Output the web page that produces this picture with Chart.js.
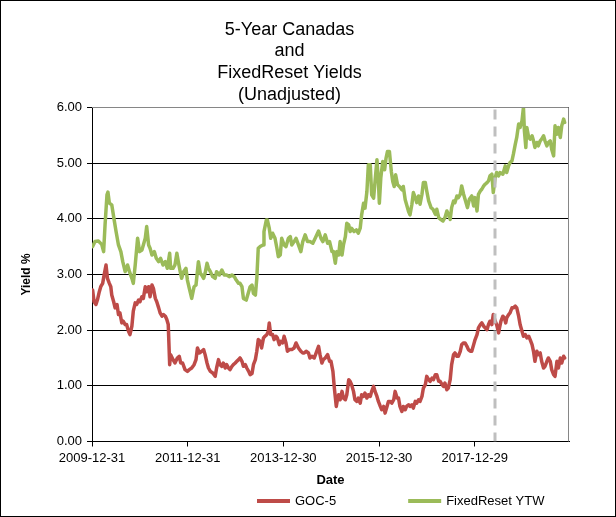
<!DOCTYPE html>
<html><head><meta charset="utf-8">
<script src="https://cdn.jsdelivr.net/npm/chart.js@4.4.1/dist/chart.umd.min.js"></script>
<style>html,body{margin:0;padding:0;background:#fff}canvas{display:block}</style>
</head><body>
<canvas id="c" width="616" height="517"></canvas>
<script>
const titleLines = ['5-Year Canadas', 'and', 'FixedReset Yields', '(Unadjusted)'];
const seriesNames = ['GOC-5', 'FixedReset YTW'];
const tickLabels = ['2009-12-31', '2011-12-31', '2013-12-30', '2015-12-30', '2017-12-29'];
const xStartDate = '2009-12-31';
const xEndDate = '2019-12-18';
const markerDate = '2018-06-01';
const yTicks = [0, 1, 2, 3, 4, 5, 6];

// dates as decimal years
const gocDates = [2010.01,2010.04,2010.08,2010.11,2010.15,2010.18,2010.22,2010.25,2010.29,2010.32,2010.36,2010.39,2010.41,2010.45,2010.48,2010.52,2010.55,2010.58,2010.62,2010.65,2010.69,2010.72,2010.76,2010.79,2010.83,2010.86,2010.90,2010.93,2010.97,2011.00,2011.04,2011.07,2011.11,2011.14,2011.18,2011.21,2011.25,2011.28,2011.32,2011.35,2011.39,2011.42,2011.46,2011.49,2011.53,2011.56,2011.59,2011.62,2011.64,2011.69,2011.73,2011.78,2011.82,2011.85,2011.89,2011.94,2011.99,2012.03,2012.08,2012.13,2012.17,2012.20,2012.24,2012.29,2012.33,2012.36,2012.40,2012.43,2012.47,2012.52,2012.57,2012.60,2012.64,2012.67,2012.71,2012.74,2012.78,2012.81,2012.85,2012.88,2012.92,2012.95,2012.99,2013.02,2013.06,2013.09,2013.13,2013.16,2013.20,2013.23,2013.27,2013.30,2013.34,2013.37,2013.41,2013.44,2013.47,2013.51,2013.54,2013.58,2013.61,2013.65,2013.68,2013.70,2013.73,2013.77,2013.80,2013.84,2013.87,2013.91,2013.94,2013.98,2014.01,2014.05,2014.08,2014.12,2014.17,2014.22,2014.26,2014.31,2014.36,2014.40,2014.43,2014.47,2014.52,2014.55,2014.59,2014.64,2014.68,2014.73,2014.76,2014.80,2014.83,2014.87,2014.92,2014.96,2014.99,2015.03,2015.06,2015.10,2015.13,2015.15,2015.18,2015.22,2015.25,2015.29,2015.32,2015.36,2015.39,2015.42,2015.46,2015.49,2015.53,2015.56,2015.60,2015.63,2015.67,2015.70,2015.74,2015.77,2015.81,2015.84,2015.88,2015.91,2015.95,2015.98,2016.02,2016.05,2016.09,2016.12,2016.16,2016.19,2016.23,2016.26,2016.30,2016.33,2016.37,2016.40,2016.43,2016.47,2016.50,2016.54,2016.57,2016.61,2016.64,2016.68,2016.71,2016.75,2016.78,2016.82,2016.85,2016.89,2016.92,2016.96,2016.99,2017.03,2017.06,2017.10,2017.13,2017.17,2017.20,2017.24,2017.27,2017.31,2017.34,2017.37,2017.41,2017.44,2017.48,2017.51,2017.55,2017.58,2017.62,2017.65,2017.69,2017.72,2017.76,2017.79,2017.83,2017.86,2017.90,2017.93,2017.97,2018.00,2018.04,2018.07,2018.11,2018.14,2018.18,2018.21,2018.25,2018.28,2018.31,2018.35,2018.38,2018.42,2018.45,2018.49,2018.51,2018.54,2018.58,2018.61,2018.64,2018.66,2018.70,2018.73,2018.77,2018.80,2018.84,2018.87,2018.91,2018.94,2018.98,2019.01,2019.05,2019.08,2019.12,2019.15,2019.19,2019.22,2019.25,2019.29,2019.32,2019.36,2019.39,2019.43,2019.46,2019.50,2019.53,2019.57,2019.60,2019.64,2019.67,2019.71,2019.74,2019.78,2019.81,2019.85,2019.87];
const gocYield = [2.72,2.51,2.46,2.54,2.69,2.78,2.84,2.99,3.17,2.93,2.84,2.78,2.63,2.51,2.40,2.46,2.28,2.31,2.13,2.16,2.10,2.10,1.98,1.92,2.07,2.34,2.49,2.46,2.54,2.51,2.60,2.57,2.78,2.69,2.78,2.60,2.81,2.75,2.57,2.51,2.40,2.31,2.25,2.28,2.25,2.19,2.10,1.38,1.56,1.47,1.41,1.50,1.53,1.41,1.41,1.29,1.26,1.29,1.32,1.38,1.47,1.68,1.59,1.62,1.65,1.56,1.41,1.32,1.26,1.23,1.17,1.32,1.47,1.38,1.35,1.41,1.32,1.38,1.32,1.29,1.35,1.38,1.41,1.44,1.47,1.50,1.44,1.35,1.38,1.32,1.26,1.20,1.22,1.38,1.47,1.62,1.83,1.80,1.68,1.86,1.89,1.92,1.98,2.13,1.92,1.92,1.83,1.89,1.86,1.74,1.80,1.77,1.89,1.77,1.62,1.65,1.65,1.68,1.77,1.68,1.62,1.59,1.59,1.62,1.59,1.50,1.53,1.50,1.59,1.71,1.56,1.41,1.47,1.50,1.56,1.44,1.44,1.26,0.96,0.63,0.78,0.84,0.75,0.90,0.78,0.75,0.84,1.11,1.08,1.02,0.90,0.75,0.72,0.78,0.69,0.84,0.81,0.87,0.78,0.84,0.81,0.90,0.99,0.90,0.81,0.72,0.63,0.57,0.63,0.51,0.63,0.72,0.72,0.69,0.75,0.90,0.78,0.78,0.63,0.54,0.63,0.57,0.63,0.66,0.63,0.66,0.60,0.72,0.69,0.75,0.72,0.81,0.96,1.02,1.17,1.11,1.08,1.14,1.11,1.20,1.20,1.08,1.08,1.02,0.99,1.05,0.93,0.96,1.11,1.38,1.56,1.59,1.53,1.53,1.62,1.74,1.77,1.77,1.71,1.65,1.62,1.62,1.74,1.83,1.92,2.04,2.10,2.13,2.07,2.04,2.01,2.10,2.16,2.10,2.28,2.16,2.10,1.95,2.04,2.16,2.25,2.22,2.13,2.22,2.28,2.31,2.40,2.40,2.43,2.40,2.25,2.10,1.98,1.89,1.92,1.86,1.89,1.83,1.74,1.62,1.44,1.62,1.56,1.59,1.44,1.32,1.35,1.44,1.50,1.44,1.29,1.20,1.17,1.44,1.32,1.50,1.41,1.53,1.50];

const frDates = [2010.01,2010.06,2010.13,2010.20,2010.24,2010.27,2010.31,2010.33,2010.36,2010.41,2010.46,2010.50,2010.55,2010.60,2010.64,2010.69,2010.74,2010.78,2010.83,2010.86,2010.90,2010.95,2010.99,2011.04,2011.07,2011.11,2011.14,2011.18,2011.21,2011.25,2011.30,2011.34,2011.39,2011.43,2011.48,2011.53,2011.57,2011.62,2011.64,2011.69,2011.73,2011.77,2011.80,2011.84,2011.87,2011.91,2011.96,2011.99,2012.03,2012.08,2012.13,2012.17,2012.22,2012.26,2012.29,2012.33,2012.36,2012.40,2012.43,2012.47,2012.52,2012.57,2012.60,2012.66,2012.71,2012.76,2012.81,2012.87,2012.92,2012.97,2013.01,2013.06,2013.09,2013.13,2013.16,2013.22,2013.27,2013.30,2013.34,2013.37,2013.41,2013.44,2013.47,2013.51,2013.57,2013.59,2013.64,2013.66,2013.70,2013.73,2013.77,2013.82,2013.86,2013.89,2013.93,2013.96,2014.01,2014.05,2014.10,2014.14,2014.17,2014.22,2014.26,2014.31,2014.36,2014.40,2014.45,2014.50,2014.55,2014.61,2014.66,2014.73,2014.78,2014.82,2014.87,2014.92,2014.96,2015.01,2015.04,2015.08,2015.11,2015.15,2015.18,2015.22,2015.25,2015.29,2015.32,2015.36,2015.39,2015.42,2015.47,2015.52,2015.56,2015.60,2015.63,2015.67,2015.70,2015.74,2015.77,2015.81,2015.84,2015.88,2015.91,2015.95,2015.98,2016.00,2016.03,2016.07,2016.11,2016.14,2016.17,2016.21,2016.25,2016.28,2016.31,2016.34,2016.38,2016.42,2016.47,2016.50,2016.54,2016.57,2016.61,2016.64,2016.68,2016.71,2016.75,2016.78,2016.82,2016.85,2016.89,2016.92,2016.96,2016.99,2017.03,2017.08,2017.12,2017.17,2017.20,2017.24,2017.28,2017.33,2017.37,2017.41,2017.44,2017.48,2017.51,2017.55,2017.58,2017.62,2017.65,2017.69,2017.72,2017.76,2017.79,2017.84,2017.88,2017.93,2017.97,2018.00,2018.04,2018.07,2018.11,2018.14,2018.18,2018.21,2018.25,2018.28,2018.31,2018.35,2018.38,2018.42,2018.45,2018.49,2018.52,2018.58,2018.63,2018.66,2018.70,2018.73,2018.77,2018.80,2018.84,2018.87,2018.91,2018.94,2018.98,2019.01,2019.03,2019.06,2019.08,2019.12,2019.15,2019.19,2019.22,2019.25,2019.29,2019.32,2019.36,2019.39,2019.43,2019.46,2019.50,2019.53,2019.57,2019.60,2019.64,2019.67,2019.71,2019.74,2019.78,2019.81,2019.85,2019.87];
const frYield = [3.50,3.59,3.60,3.54,3.41,3.89,4.43,4.48,4.28,4.25,3.98,3.77,3.53,3.41,3.23,3.05,3.17,3.05,2.93,2.84,3.17,3.65,3.41,3.44,3.53,3.65,3.86,3.53,3.47,3.35,3.41,3.29,3.23,3.29,3.17,3.23,3.11,3.38,3.11,3.11,3.17,3.38,3.23,3.05,2.93,3.05,3.11,2.90,2.75,2.57,2.78,2.81,3.23,3.02,2.99,2.93,3.02,3.20,3.11,3.05,2.96,2.93,3.05,2.99,3.08,2.99,2.99,2.96,2.99,2.96,2.90,2.84,2.84,2.78,2.57,2.54,2.69,2.78,2.81,2.66,2.63,2.93,3.47,3.50,3.53,3.77,3.98,3.98,3.83,3.65,3.74,3.65,3.47,3.32,3.35,3.65,3.53,3.50,3.65,3.68,3.53,3.59,3.65,3.53,3.41,3.59,3.71,3.59,3.59,3.56,3.65,3.78,3.65,3.59,3.71,3.56,3.59,3.41,3.41,3.20,3.41,3.35,3.59,3.35,3.53,3.68,3.92,3.89,3.77,3.83,3.77,3.80,3.74,3.83,4.07,4.28,4.19,4.49,4.97,4.97,4.43,4.37,4.67,5.06,4.67,4.28,4.73,5.03,4.88,5.09,5.21,5.21,4.85,4.67,4.58,4.79,4.61,4.58,4.52,4.58,4.34,4.25,4.13,4.07,4.26,4.47,4.38,4.29,4.41,4.26,4.44,4.65,4.65,4.50,4.32,4.20,4.17,4.08,4.17,4.02,3.99,3.96,4.02,4.14,4.08,3.99,4.20,4.32,4.29,4.41,4.38,4.44,4.59,4.44,4.35,4.20,4.35,4.41,4.23,4.38,4.14,4.44,4.50,4.53,4.59,4.62,4.65,4.68,4.77,4.80,4.47,4.74,4.83,4.77,4.83,4.80,4.95,4.83,4.95,5.01,5.04,5.16,5.34,5.46,5.70,5.64,5.76,6.00,5.58,5.28,5.64,5.46,5.43,5.49,5.40,5.28,5.37,5.31,5.40,5.43,5.49,5.40,5.31,5.37,5.40,5.25,5.13,5.67,5.52,5.64,5.46,5.67,5.79,5.73];

const RED = '#BE4B48', GREEN = '#9BBB59';
const FONT = "'Liberation Sans', Arial, sans-serif";

function decYear(s) {
  const [y, m, d] = s.split('-').map(Number);
  const a = Date.UTC(y, 0, 1), b = Date.UTC(y + 1, 0, 1);
  return y + (Date.UTC(y, m - 1, d) - a) / (b - a);
}
const toPoints = (xs, ys) => xs.map((x, i) => ({x: x, y: ys[i]}));

Chart.defaults.font.family = FONT;
Chart.defaults.color = '#000';

const framePlugin = {
  id: 'frame',
  beforeDraw(chart) {
    const c = chart.ctx;
    c.save(); c.fillStyle = '#fff'; c.fillRect(0, 0, chart.width, chart.height); c.restore();
  },
  afterDatasetsDraw(chart) {
    const c = chart.ctx, a = chart.chartArea;
    const x = Math.round(chart.scales.x.getPixelForValue(decYear(markerDate)));
    c.save();
    c.beginPath(); c.rect(a.left, a.top, a.right - a.left, a.bottom - a.top); c.clip();
    c.strokeStyle = '#BFBFBF'; c.lineWidth = 3; c.setLineDash([10, 7]);
    c.beginPath(); c.moveTo(x, a.top + 2); c.lineTo(x, a.bottom); c.stroke();
    c.restore();
  },
  afterDraw(chart) {
    const c = chart.ctx, a = chart.chartArea;
    c.save();
    c.strokeStyle = '#868686'; c.lineWidth = 1;
    const t = Math.round(a.top) + 0.5, r = Math.round(a.right) - 0.5;
    c.beginPath(); c.moveTo(a.left, t); c.lineTo(r, t); c.lineTo(r, a.bottom); c.stroke();
    c.strokeStyle = '#000';
    c.strokeRect(0.5, 0.5, chart.width - 1, chart.height - 1);
    // legend
    c.font = '13px ' + FONT; c.textBaseline = 'middle'; c.fillStyle = '#000';
    const ly = chart.height - 16;
    let lx = 257;
    chart.data.datasets.forEach((ds, i) => {
      c.strokeStyle = ds.borderColor; c.lineWidth = 4; c.setLineDash([]);
      c.beginPath(); c.moveTo(lx, ly); c.lineTo(lx + 33, ly); c.stroke();
      c.fillText(ds.label, lx + 38, ly);
      lx += 38 + c.measureText(ds.label).width + 72;
    });
    c.restore();
  }
};

new Chart(document.getElementById('c'), {
  type: 'line',
  data: {
    datasets: [
      {label: seriesNames[0], data: toPoints(gocDates, gocYield), borderColor: RED, backgroundColor: RED, borderWidth: 3.5, pointRadius: 0, tension: 0, borderJoinStyle: 'round', borderCapStyle: 'round'},
      {label: seriesNames[1], data: toPoints(frDates, frYield), borderColor: GREEN, backgroundColor: GREEN, borderWidth: 3.5, pointRadius: 0, tension: 0, borderJoinStyle: 'round', borderCapStyle: 'round'}
    ]
  },
  options: {
    responsive: false,
    animation: false,
    devicePixelRatio: 1,
    layout: {padding: {left: 10, right: 47, top: 0, bottom: 0}},
    plugins: {
      legend: {display: false},
      tooltip: {enabled: false},
      title: {
        display: true, text: titleLines, color: '#000',
        font: {size: 18, weight: 'normal', family: FONT, lineHeight: 1.2},
        padding: {top: 19, bottom: 2}
      }
    },
    scales: {
      x: {
        type: 'linear',
        min: decYear(xStartDate), max: decYear(xEndDate),
        afterFit(s) { s.height = 75.5; },
        afterBuildTicks(s) { s.ticks = tickLabels.map(l => ({value: decYear(l)})); },
        ticks: {
          autoSkip: false, maxRotation: 0, padding: 4, color: '#000',
          font: {size: 13},
          callback: (v, i) => tickLabels[i]
        },
        grid: {drawOnChartArea: false, drawTicks: true, tickLength: 5, color: '#000'},
        border: {color: '#000', width: 1},
        title: {display: true, text: 'Date', color: '#000', font: {size: 13, weight: 'bold'}, padding: {top: 0, bottom: 29}}
      },
      y: {
        min: 0, max: 6,
        afterFit(s) { s.width = 82; },
        afterBuildTicks(s) { s.ticks = yTicks.map(v => ({value: v})); },
        ticks: {padding: 5, color: '#000', font: {size: 13}, callback: v => v.toFixed(2)},
        grid: {color: '#000', lineWidth: 1, drawTicks: true, tickLength: 5},
        border: {color: '#000', width: 1},
        title: {display: true, text: 'Yield %', color: '#000', font: {size: 12, weight: 'bold'}, padding: {top: 9, bottom: 0}}
      }
    }
  },
  plugins: [framePlugin]
});
</script>
</body></html>
